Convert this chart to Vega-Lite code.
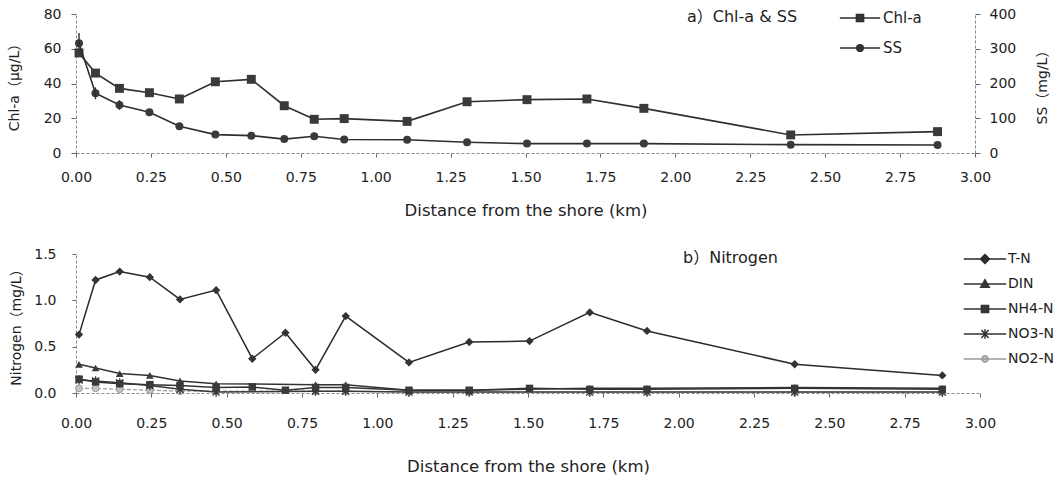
{
  "$schema": "https://vega.github.io/schema/vega-lite/v6.json",
  "padding": {"left": 7, "top": 6, "right": 4, "bottom": 2},
  "background": "white",
  "datasets": {
    "top": [
      {"d": 0.01, "s": "Chl-a", "v": 57.6},
      {"d": 0.065, "s": "Chl-a", "v": 46},
      {"d": 0.145, "s": "Chl-a", "v": 37.2},
      {"d": 0.245, "s": "Chl-a", "v": 34.7},
      {"d": 0.345, "s": "Chl-a", "v": 31.1},
      {"d": 0.465, "s": "Chl-a", "v": 41},
      {"d": 0.585, "s": "Chl-a", "v": 42.4},
      {"d": 0.695, "s": "Chl-a", "v": 27.2},
      {"d": 0.795, "s": "Chl-a", "v": 19.4},
      {"d": 0.895, "s": "Chl-a", "v": 19.8},
      {"d": 1.105, "s": "Chl-a", "v": 18.2},
      {"d": 1.305, "s": "Chl-a", "v": 29.5},
      {"d": 1.505, "s": "Chl-a", "v": 30.7},
      {"d": 1.705, "s": "Chl-a", "v": 31.1},
      {"d": 1.895, "s": "Chl-a", "v": 25.7},
      {"d": 2.385, "s": "Chl-a", "v": 10.4},
      {"d": 2.875, "s": "Chl-a", "v": 12.3},
      {"d": 0.01, "s": "SS", "v": 316, "lo": 295, "hi": 345},
      {"d": 0.065, "s": "SS", "v": 172, "lo": 155, "hi": 189},
      {"d": 0.145, "s": "SS", "v": 138, "lo": 124, "hi": 152},
      {"d": 0.245, "s": "SS", "v": 117},
      {"d": 0.345, "s": "SS", "v": 77},
      {"d": 0.465, "s": "SS", "v": 53},
      {"d": 0.585, "s": "SS", "v": 50},
      {"d": 0.695, "s": "SS", "v": 40},
      {"d": 0.795, "s": "SS", "v": 48},
      {"d": 0.895, "s": "SS", "v": 39},
      {"d": 1.105, "s": "SS", "v": 38},
      {"d": 1.305, "s": "SS", "v": 31},
      {"d": 1.505, "s": "SS", "v": 27},
      {"d": 1.705, "s": "SS", "v": 27},
      {"d": 1.895, "s": "SS", "v": 27},
      {"d": 2.385, "s": "SS", "v": 24},
      {"d": 2.875, "s": "SS", "v": 23}
    ],
    "nit": [
      {"d": 0.01, "s": "T-N", "v": 0.63},
      {"d": 0.065, "s": "T-N", "v": 1.22},
      {"d": 0.145, "s": "T-N", "v": 1.31},
      {"d": 0.245, "s": "T-N", "v": 1.25},
      {"d": 0.345, "s": "T-N", "v": 1.01},
      {"d": 0.465, "s": "T-N", "v": 1.11},
      {"d": 0.585, "s": "T-N", "v": 0.37},
      {"d": 0.695, "s": "T-N", "v": 0.65},
      {"d": 0.795, "s": "T-N", "v": 0.25},
      {"d": 0.895, "s": "T-N", "v": 0.83},
      {"d": 1.105, "s": "T-N", "v": 0.33},
      {"d": 1.305, "s": "T-N", "v": 0.55},
      {"d": 1.505, "s": "T-N", "v": 0.56},
      {"d": 1.705, "s": "T-N", "v": 0.87},
      {"d": 1.895, "s": "T-N", "v": 0.67},
      {"d": 2.385, "s": "T-N", "v": 0.31},
      {"d": 2.875, "s": "T-N", "v": 0.19},
      {"d": 0.01, "s": "DIN", "v": 0.31},
      {"d": 0.065, "s": "DIN", "v": 0.27},
      {"d": 0.145, "s": "DIN", "v": 0.21},
      {"d": 0.245, "s": "DIN", "v": 0.19},
      {"d": 0.345, "s": "DIN", "v": 0.13},
      {"d": 0.465, "s": "DIN", "v": 0.10},
      {"d": 0.795, "s": "DIN", "v": 0.09},
      {"d": 0.895, "s": "DIN", "v": 0.09},
      {"d": 1.105, "s": "DIN", "v": 0.03},
      {"d": 1.305, "s": "DIN", "v": 0.03},
      {"d": 1.705, "s": "DIN", "v": 0.05},
      {"d": 1.895, "s": "DIN", "v": 0.05},
      {"d": 2.385, "s": "DIN", "v": 0.06},
      {"d": 2.875, "s": "DIN", "v": 0.05},
      {"d": 0.01, "s": "NH4-N", "v": 0.15},
      {"d": 0.065, "s": "NH4-N", "v": 0.12},
      {"d": 0.145, "s": "NH4-N", "v": 0.10},
      {"d": 0.245, "s": "NH4-N", "v": 0.09},
      {"d": 0.345, "s": "NH4-N", "v": 0.08},
      {"d": 0.465, "s": "NH4-N", "v": 0.06},
      {"d": 0.585, "s": "NH4-N", "v": 0.065},
      {"d": 0.695, "s": "NH4-N", "v": 0.03},
      {"d": 0.795, "s": "NH4-N", "v": 0.06},
      {"d": 0.895, "s": "NH4-N", "v": 0.06},
      {"d": 1.105, "s": "NH4-N", "v": 0.03},
      {"d": 1.305, "s": "NH4-N", "v": 0.03},
      {"d": 1.505, "s": "NH4-N", "v": 0.05},
      {"d": 1.705, "s": "NH4-N", "v": 0.04},
      {"d": 1.895, "s": "NH4-N", "v": 0.04},
      {"d": 2.385, "s": "NH4-N", "v": 0.05},
      {"d": 2.875, "s": "NH4-N", "v": 0.04},
      {"d": 0.01, "s": "NO3-N", "v": 0.14},
      {"d": 0.065, "s": "NO3-N", "v": 0.13},
      {"d": 0.145, "s": "NO3-N", "v": 0.11},
      {"d": 0.245, "s": "NO3-N", "v": 0.08},
      {"d": 0.345, "s": "NO3-N", "v": 0.04},
      {"d": 0.465, "s": "NO3-N", "v": 0.01},
      {"d": 0.795, "s": "NO3-N", "v": 0.02},
      {"d": 0.895, "s": "NO3-N", "v": 0.02},
      {"d": 1.105, "s": "NO3-N", "v": 0.01},
      {"d": 1.305, "s": "NO3-N", "v": 0.01},
      {"d": 1.705, "s": "NO3-N", "v": 0.01},
      {"d": 1.895, "s": "NO3-N", "v": 0.01},
      {"d": 2.385, "s": "NO3-N", "v": 0.01},
      {"d": 2.875, "s": "NO3-N", "v": 0.01},
      {"d": 0.01, "s": "NO2-N", "v": 0.05},
      {"d": 0.065, "s": "NO2-N", "v": 0.05},
      {"d": 0.145, "s": "NO2-N", "v": 0.04},
      {"d": 0.245, "s": "NO2-N", "v": 0.03},
      {"d": 0.345, "s": "NO2-N", "v": 0.02},
      {"d": 0.465, "s": "NO2-N", "v": 0.02},
      {"d": 0.795, "s": "NO2-N", "v": 0.02},
      {"d": 0.895, "s": "NO2-N", "v": 0.02},
      {"d": 1.105, "s": "NO2-N", "v": 0.01},
      {"d": 1.305, "s": "NO2-N", "v": 0.01},
      {"d": 1.705, "s": "NO2-N", "v": 0.01},
      {"d": 1.895, "s": "NO2-N", "v": 0.01},
      {"d": 2.385, "s": "NO2-N", "v": 0.01},
      {"d": 2.875, "s": "NO2-N", "v": 0.01}
    ]
  },
  "vconcat": [
    {
      "width": 899,
      "height": 139,
      "data": {"name": "top"},
      "encoding": {
        "x": {
          "field": "d", "type": "quantitative",
          "scale": {"domain": [0, 3], "nice": false},
          "axis": {
            "title": "Distance from the shore (km)",
            "values": [0, 0.25, 0.5, 0.75, 1, 1.25, 1.5, 1.75, 2, 2.25, 2.5, 2.75, 3],
            "format": ".2f", "labelPadding": 13, "titlePadding": 18
          }
        }
      },
      "layer": [
        {
          "transform": [{"filter": "datum.s === 'Chl-a'"}],
          "mark": {"type": "line", "color": "#2e2e2e", "strokeWidth": 1.6,
                   "point": {"filled": true, "shape": "square", "size": 80, "color": "#3a3a3a", "opacity": 1}},
          "encoding": {
            "y": {
              "field": "v", "type": "quantitative",
              "scale": {"domain": [0, 80], "nice": false},
              "axis": {"orient": "left", "title": "Chl-a（μg/L）", "values": [0, 20, 40, 60, 80], "labelPadding": 10, "titlePadding": 22, "tickSize": 5}
            }
          }
        },
        {
          "transform": [{"filter": "datum.s === 'SS'"}],
          "mark": {"type": "line", "color": "#2e2e2e", "strokeWidth": 1.6,
                   "point": {"filled": true, "shape": "circle", "size": 64, "color": "#3a3a3a", "opacity": 1}},
          "encoding": {
            "y": {
              "field": "v", "type": "quantitative",
              "scale": {"domain": [0, 400], "nice": false},
              "axis": {"orient": "right", "title": "SS（mg/L）", "values": [0, 100, 200, 300, 400], "labelPadding": 9, "titlePadding": 20, "tickSize": 5, "titleAngle": 270, "titleBaseline": "top"}
            }
          }
        },
        {
          "transform": [{"filter": "isValid(datum.lo)"}],
          "mark": {"type": "rule", "color": "#2e2e2e", "strokeWidth": 1.4},
          "encoding": {
            "y": {"field": "lo", "type": "quantitative", "scale": {"domain": [0, 400], "nice": false}, "axis": null},
            "y2": {"field": "hi"}
          }
        },
        {
          "transform": [{"filter": "datum.d < 0"}],
          "mark": {"type": "point", "filled": true, "opacity": 1, "strokeWidth": 1.5},
          "encoding": {
            "shape": {
              "field": "s", "type": "nominal",
              "scale": {"domain": ["Chl-a", "SS"], "range": ["M0,-0.9M0,0.9M-1.8,0H1.8M-0.32,-0.32H0.32V0.32H-0.32Z", "M0,-0.9M0,0.9M-1.8,0H1.8M0.3,0A0.3,0.3,0,1,1,-0.3,0A0.3,0.3,0,1,1,0.3,0Z"]},
              "legend": {
                "orient": "none", "legendX": 611, "legendY": -8,
                "title": "a）Chl-a & SS", "titleOrient": "left", "titleAnchor": "start", "titlePadding": 50,
                "titleBaseline": "line-top", "titleLineHeight": 22,
                "titleFontSize": 16, "titleFontWeight": "normal", "titleColor": "#222",
                "labelFontSize": 15, "labelColor": "#222", "labelOffset": 11,
                "symbolSize": 500, "rowPadding": 2, "symbolStrokeWidth": 1.5, "symbolOpacity": 1
              }
            },
            "fill": {
              "field": "s", "type": "nominal",
              "scale": {"domain": ["Chl-a", "SS"], "range": ["#3a3a3a", "#3a3a3a"]},
              "legend": {
                "orient": "none", "legendX": 611, "legendY": -8,
                "title": "a）Chl-a & SS", "titleOrient": "left", "titleAnchor": "start", "titlePadding": 50,
                "titleBaseline": "line-top", "titleLineHeight": 22,
                "titleFontSize": 16, "titleFontWeight": "normal", "titleColor": "#222",
                "labelFontSize": 15, "labelColor": "#222", "labelOffset": 11,
                "symbolSize": 500, "rowPadding": 2, "symbolStrokeWidth": 1.5, "symbolOpacity": 1
              }
            },
            "stroke": {
              "field": "s", "type": "nominal",
              "scale": {"domain": ["Chl-a", "SS"], "range": ["#2e2e2e", "#2e2e2e"]},
              "legend": {
                "orient": "none", "legendX": 611, "legendY": -8,
                "title": "a）Chl-a & SS", "titleOrient": "left", "titleAnchor": "start", "titlePadding": 50,
                "titleBaseline": "line-top", "titleLineHeight": 22,
                "titleFontSize": 16, "titleFontWeight": "normal", "titleColor": "#222",
                "labelFontSize": 15, "labelColor": "#222", "labelOffset": 11,
                "symbolSize": 500, "rowPadding": 2, "symbolStrokeWidth": 1.5, "symbolOpacity": 1
              }
            }
          }
        }
      ],
      "resolve": {"scale": {"y": "independent"}}
    },
    {
      "width": 904,
      "height": 139,
      "data": {"name": "nit"},
      "encoding": {
        "x": {
          "field": "d", "type": "quantitative",
          "scale": {"domain": [0, 3], "nice": false},
          "axis": {
            "title": "Distance from the shore (km)",
            "values": [0, 0.25, 0.5, 0.75, 1, 1.25, 1.5, 1.75, 2, 2.25, 2.5, 2.75, 3],
            "format": ".2f", "labelPadding": 19, "titlePadding": 28
          }
        },
        "y": {
          "field": "v", "type": "quantitative",
          "scale": {"domain": [0, 1.5], "nice": false},
          "axis": {"title": "Nitrogen（mg/L）", "values": [0, 0.5, 1, 1.5], "format": ".1f", "labelPadding": 16, "titlePadding": 10, "tickSize": 4}
        }
      },
      "layer": [
        {
          "transform": [{"filter": "datum.s === 'NO2-N'"}],
          "mark": {"type": "line", "color": "#a0a0a0", "strokeWidth": 1.3, "strokeDash": [4, 2],
                   "point": {"filled": true, "shape": "circle", "size": 45, "color": "#c4c4c4", "stroke": "#9a9a9a", "strokeWidth": 1, "opacity": 1}}
        },
        {
          "transform": [{"filter": "datum.s === 'NO3-N'"}],
          "mark": {"type": "line", "color": "#383838", "strokeWidth": 1.5,
                   "point": {"filled": false, "shape": "M-1,-1L1,1M-1,1L1,-1M0,-1.3V1.3", "size": 50, "color": "#333333", "strokeWidth": 1.3, "opacity": 1}}
        },
        {
          "transform": [{"filter": "datum.s === 'NH4-N'"}],
          "mark": {"type": "line", "color": "#333333", "strokeWidth": 1.5,
                   "point": {"filled": true, "shape": "square", "size": 55, "color": "#3a3a3a", "opacity": 1}}
        },
        {
          "transform": [{"filter": "datum.s === 'DIN'"}],
          "mark": {"type": "line", "color": "#333333", "strokeWidth": 1.5,
                   "point": {"filled": true, "shape": "triangle-up", "size": 60, "color": "#3a3a3a", "opacity": 1}}
        },
        {
          "transform": [{"filter": "datum.s === 'T-N'"}],
          "mark": {"type": "line", "color": "#2a2a2a", "strokeWidth": 1.5,
                   "point": {"filled": true, "shape": "diamond", "size": 70, "color": "#333333", "opacity": 1}}
        },
        {
          "transform": [{"filter": "datum.d < 0"}],
          "mark": {"type": "point", "filled": true, "opacity": 1, "strokeWidth": 1.5},
          "encoding": {
            "shape": {
              "field": "s", "type": "nominal",
              "scale": {"domain": ["T-N", "DIN", "NH4-N", "NO3-N", "NO2-N"], "range": [
                "M0,-0.83M0,0.83M-1.9,0H1.9M0,-0.4L0.4,0L0,0.4L-0.4,0Z",
                "M0,-0.83M0,0.83M-1.9,0H1.9M0,-0.38L0.38,0.28L-0.38,0.28Z",
                "M0,-0.83M0,0.83M-1.9,0H1.9M-0.32,-0.32H0.32V0.32H-0.32Z",
                "M0,-0.83M0,0.83M-1.9,0H1.9M-0.32,-0.36L0.32,0.36M-0.32,0.36L0.32,-0.36M0,-0.42V0.42",
                "M0,-0.83M0,0.83M-1.9,0H1.9M0.28,0A0.28,0.28,0,1,1,-0.28,0A0.28,0.28,0,1,1,0.28,0Z"]},
              "legend": {
                "orient": "none", "legendX": 607, "legendY": -7,
                "title": "b）Nitrogen", "titleOrient": "left", "titleAnchor": "start", "titlePadding": 194,
                "titleBaseline": "line-top", "titleLineHeight": 22,
                "titleFontSize": 16, "titleFontWeight": "normal", "titleColor": "#222",
                "labelFontSize": 14, "labelColor": "#222", "labelOffset": 11,
                "symbolSize": 500, "rowPadding": -3.5, "symbolStrokeWidth": 1.5, "symbolOpacity": 1
              }
            },
            "fill": {
              "field": "s", "type": "nominal",
              "scale": {"domain": ["T-N", "DIN", "NH4-N", "NO3-N", "NO2-N"], "range": ["#333333", "#3a3a3a", "#3a3a3a", "#3a3a3a", "#c4c4c4"]},
              "legend": {
                "orient": "none", "legendX": 607, "legendY": -7,
                "title": "b）Nitrogen", "titleOrient": "left", "titleAnchor": "start", "titlePadding": 194,
                "titleBaseline": "line-top", "titleLineHeight": 22,
                "titleFontSize": 16, "titleFontWeight": "normal", "titleColor": "#222",
                "labelFontSize": 14, "labelColor": "#222", "labelOffset": 11,
                "symbolSize": 500, "rowPadding": -3.5, "symbolStrokeWidth": 1.5, "symbolOpacity": 1
              }
            },
            "stroke": {
              "field": "s", "type": "nominal",
              "scale": {"domain": ["T-N", "DIN", "NH4-N", "NO3-N", "NO2-N"], "range": ["#2a2a2a", "#333333", "#333333", "#333333", "#9a9a9a"]},
              "legend": {
                "orient": "none", "legendX": 607, "legendY": -7,
                "title": "b）Nitrogen", "titleOrient": "left", "titleAnchor": "start", "titlePadding": 194,
                "titleBaseline": "line-top", "titleLineHeight": 22,
                "titleFontSize": 16, "titleFontWeight": "normal", "titleColor": "#222",
                "labelFontSize": 14, "labelColor": "#222", "labelOffset": 11,
                "symbolSize": 500, "rowPadding": -3.5, "symbolStrokeWidth": 1.5, "symbolOpacity": 1
              }
            }
          }
        }
      ]
    }
  ],
  "spacing": 28,
  "align": "none",
  "resolve": {"scale": {"shape": "independent", "fill": "independent", "stroke": "independent", "x": "independent", "y": "independent"}},
  "config": {
    "font": "DejaVu Sans, Noto Sans CJK JP",
    "view": {"stroke": null},
    "axis": {
      "grid": false,
      "labelFont": "DejaVu Sans, Noto Sans CJK JP",
      "titleFont": "DejaVu Sans, Noto Sans CJK JP",
      "labelFontSize": 14,
      "titleFontSize": 14,
      "titleFontWeight": "normal",
      "labelColor": "#222",
      "titleColor": "#222",
      "domainColor": "#888",
      "domainDash": [3, 2],
      "tickColor": "#666",
      "tickSize": 4,
      "labelFlush": false
    },
    "axisX": {"titleFontSize": 16.5},
    "legend": {
      "labelFont": "DejaVu Sans, Noto Sans CJK JP",
      "titleFont": "DejaVu Sans, Noto Sans CJK JP"
    }
  }
}
